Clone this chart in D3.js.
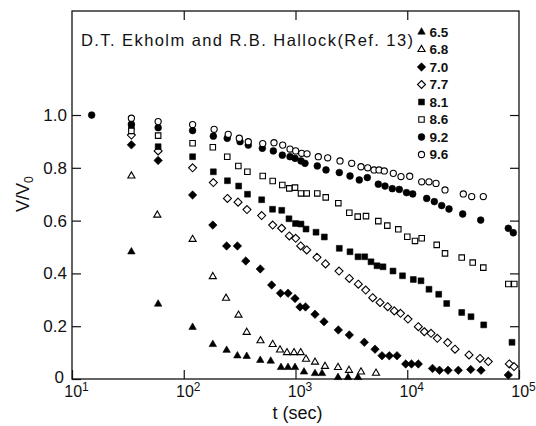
<!DOCTYPE html>
<html>
<head>
<meta charset="utf-8">
<style>
  body { margin: 0; background: #fff; }
  svg { display: block; font-family: 'Liberation Sans', Arial, sans-serif; }
  .tick line { stroke: #111; stroke-width: 1.2; }
  .tick text { font-size: 17px; fill: #111; }
  .xax .tick text { font-size: 16px; }
</style>
</head>
<body>
<svg id="chart" width="536" height="426"></svg>
<script src="https://cdnjs.cloudflare.com/ajax/libs/d3/7.8.5/d3.min.js"></script>
<script>
// values: [t (sec), V/V0]
var s65 = [[34,0.482],[59,0.284],[120,0.196],[182,0.131],[242,0.109],[302,0.088],[366,0.086],[484,0.071],[600,0.068],[742,0.044],[857,0.044],[990,0.044],[1191,0.027],[1495,0.021],[1727,0.021],[2401,0.006],[2951,0.006],[3625,0.006]];
var s68 = [[34,0.769],[58,0.621],[120,0.529],[182,0.388],[239,0.306],[309,0.242],[366,0.177],[486,0.145],[625,0.131],[727,0.110],[839,0.100],[970,0.100],[1113,0.100],[1242,0.075],[1495,0.064],[1837,0.048],[2401,0.044],[3011,0.033],[3855,0.027],[5253,0.022]];
var s70 = [[34,0.887],[59,0.828],[120,0.697],[182,0.583],[242,0.504],[302,0.504],[359,0.447],[484,0.417],[612,0.356],[734,0.325],[857,0.325],[990,0.305],[1097,0.273],[1229,0.273],[1495,0.245],[1799,0.217],[2416,0.186],[3030,0.167],[4128,0.139],[5145,0.113],[5943,0.088],[6908,0.088],[8094,0.088],[9687,0.057],[10910,0.057],[12560,0.057],[16830,0.040],[19440,0.033],[23160,0.033],[28630,0.033],[36970,0.036],[45710,0.033],[80240,0.015]];
var s77 = [[34,0.924],[59,0.864],[120,0.800],[184,0.744],[246,0.684],[306,0.670],[368,0.642],[498,0.619],[625,0.583],[752,0.571],[880,0.542],[1004,0.533],[1113,0.504],[1260,0.489],[1557,0.461],[1856,0.436],[2451,0.409],[3030,0.381],[3648,0.359],[4249,0.337],[4907,0.308],[5704,0.290],[6683,0.274],[7657,0.258],[8700,0.249],[10150,0.227],[12560,0.198],[14210,0.179],[16320,0.173],[18580,0.154],[23010,0.138],[26750,0.113],[35690,0.091],[44770,0.078],[53130,0.066],[81900,0.057],[90230,0.047]];
var s81 = [[34,0.955],[59,0.880],[120,0.842],[184,0.785],[246,0.751],[310,0.731],[372,0.700],[498,0.679],[623,0.643],[753,0.639],[874,0.607],[1000,0.589],[1120,0.587],[1242,0.568],[1526,0.556],[1811,0.538],[2466,0.495],[3074,0.482],[3625,0.463],[4162,0.463],[4738,0.444],[5362,0.429],[6067,0.425],[7455,0.409],[9068,0.391],[11330,0.377],[13270,0.372],[15650,0.340],[19120,0.321],[22540,0.286],[30720,0.252],[37200,0.236],[48320,0.205],[86570,0.139]];
var s86 = [[34,0.940],[59,0.922],[120,0.893],[182,0.878],[245,0.842],[308,0.807],[371,0.785],[509,0.769],[625,0.750],[762,0.735],[880,0.722],[990,0.725],[1120,0.703],[1260,0.703],[1567,0.703],[1864,0.688],[2416,0.666],[3030,0.630],[3602,0.615],[4275,0.617],[5508,0.598],[6630,0.581],[8316,0.567],[10010,0.539],[11730,0.523],[13470,0.533],[18350,0.508],[21770,0.476],[30720,0.460],[38520,0.441],[47920,0.422],[80240,0.360],[90790,0.360]];
var s92 = [[15,1.0],[34,0.965],[59,0.952],[120,0.941],[184,0.920],[245,0.912],[319,0.899],[378,0.886],[505,0.874],[633,0.864],[762,0.848],[893,0.842],[990,0.836],[1120,0.826],[1216,0.817],[1567,0.807],[1875,0.792],[2466,0.782],[3074,0.769],[3723,0.754],[4391,0.763],[5508,0.738],[6322,0.731],[7348,0.721],[8489,0.718],[9847,0.706],[11190,0.701],[14930,0.684],[17470,0.672],[20330,0.657],[23640,0.644],[31350,0.625],[45420,0.602],[80240,0.571],[88920,0.554]];
var s96 = [[34,0.988],[59,0.975],[120,0.964],[187,0.946],[250,0.927],[314,0.912],[378,0.899],[509,0.892],[642,0.895],[768,0.886],[893,0.871],[1004,0.864],[1136,0.855],[1268,0.853],[1600,0.842],[1941,0.838],[2502,0.826],[3183,0.817],[3855,0.804],[4427,0.800],[5041,0.792],[5587,0.792],[6231,0.788],[7502,0.779],[8790,0.767],[10520,0.768],[13470,0.747],[15650,0.747],[18090,0.741],[21770,0.716],[31740,0.701],[37730,0.691],[47920,0.691]];

var labels = ["6.5", "6.8", "7.0", "7.7", "8.1", "8.6", "9.2", "9.6"];
var series = [s65, s68, s70, s77, s81, s86, s92, s96];
var xTicks = [10, 100, 1000, 10000, 100000];
var xExp = ["1", "2", "3", "4", "5"];
var yTicks = [0, 0.2, 0.4, 0.6, 0.8, 1.0];
var yMax = 1.394;
var title = "D.T. Ekholm and R.B. Hallock(Ref. 13)";

// set the dimensions and margins of the graph
var margin = { top: 11, right: 17, bottom: 47, left: 72 },
	width = 536 - margin.left - margin.right,
	height = 426 - margin.top - margin.bottom;

var diamond = {
	draw: function (ctx, size) {
		var r = Math.sqrt(size / 2);
		ctx.moveTo(0, -r); ctx.lineTo(r, 0); ctx.lineTo(0, r); ctx.lineTo(-r, 0); ctx.closePath();
	}
};
// marker per series: shape, filled?, size
var markers = [
	[d3.symbolTriangle, true, 24], [d3.symbolTriangle, false, 22],
	[diamond, true, 36], [diamond, false, 32],
	[d3.symbolSquare, true, 34], [d3.symbolSquare, false, 30],
	[d3.symbolCircle, true, 36], [d3.symbolCircle, false, 30]
];

var x = d3.scaleLog().domain([10, 100000]).range([0, width]);
var y = d3.scaleLinear().domain([0, yMax]).range([height, 0]);

var svg = d3.select("#chart").append("g")
	.attr("transform", "translate(" + margin.left + "," + margin.top + ")");

function style(g) {
	g.select(".domain").remove();
	g.selectAll(".tick line").attr("stroke", "#111").attr("stroke-width", 1.2);
}

// bottom axis with 10^n labels
svg.append("g")
	.attr("class", "xax")
	.attr("transform", "translate(0," + height + ")")
	.call(d3.axisBottom(x).tickValues(xTicks).tickSize(-9).tickPadding(7).tickFormat(""))
	.call(style)
	.selectAll(".tick text")
	.attr("dx", 4)
	.each(function (d, i) {
		var t = d3.select(this);
		t.append("tspan").text("10");
		t.append("tspan").attr("dy", "-0.5em").attr("font-size", "12px").text(xExp[i]);
	});

svg.append("g")
	.call(d3.axisTop(x).tickValues(xTicks.slice(1, 4)).tickSize(-9).tickFormat(""))
	.call(style);

svg.append("g")
	.call(d3.axisLeft(y).tickValues(yTicks).tickSize(-9).tickPadding(5)
		.tickFormat(function (d) { return d === 0 ? "0" : d3.format(".1f")(d); }))
	.call(style)
	.selectAll(".tick text")
	.filter(function (d) { return d === 0; })
	.attr("dx", -3)
	.attr("dy", "0.2em");

svg.append("g")
	.attr("transform", "translate(" + width + ",0)")
	.call(d3.axisRight(y).tickValues(yTicks.slice(1)).tickSize(-9).tickFormat(""))
	.call(style);

// frame
svg.append("rect")
	.attr("width", width).attr("height", height)
	.attr("fill", "none").attr("stroke", "#111").attr("stroke-width", 1.3);

// points
series.forEach(function (data, i) {
	var m = markers[i];
	svg.append("g").selectAll("path")
		.data(data)
		.enter().append("path")
		.attr("transform", function (d) { return "translate(" + x(d[0]) + "," + y(d[1]) + ")"; })
		.attr("d", d3.symbol().type(m[0]).size(m[2]))
		.attr("fill", m[1] ? "#000" : "#fff")
		.attr("stroke", "#000")
		.attr("stroke-width", m[1] ? 0.6 : 1.1);
});

// legend
var legend = svg.selectAll(".legend")
	.data(labels)
	.enter().append("g")
	.attr("transform", function (d, i) { return "translate(" + (349.5) + "," + (21 + i * 17.5) + ")"; });

legend.append("path")
	.attr("d", function (d, i) { return d3.symbol().type(markers[i][0]).size(markers[i][2])(); })
	.attr("fill", function (d, i) { return markers[i][1] ? "#000" : "#fff"; })
	.attr("stroke", "#000")
	.attr("stroke-width", function (d, i) { return markers[i][1] ? 0.6 : 1.1; });

legend.append("text")
	.attr("x", 8)
	.attr("dy", "0.36em")
	.attr("font-size", "13.5px")
	.attr("font-weight", "bold")
	.attr("fill", "#111")
	.text(function (d) { return d; });

// title
svg.append("text")
	.attr("x", 9).attr("y", 35)
	.attr("font-size", "16.5px")
	.attr("fill", "#111")
	.attr("textLength", 332)
	.attr("lengthAdjust", "spacing")
	.text(title);

// axis labels
svg.append("text")
	.attr("x", width / 2 + 2).attr("y", height + 40)
	.attr("text-anchor", "middle")
	.attr("font-size", "18px")
	.attr("fill", "#111")
	.text("t (sec)");

var yl = svg.append("text")
	.attr("transform", "translate(-43," + (y(0.7)) + ") rotate(-90)")
	.attr("text-anchor", "middle")
	.attr("font-size", "18px")
	.attr("fill", "#111");
yl.append("tspan").text("V/V");
yl.append("tspan").attr("dy", "0.3em").attr("font-size", "12px").text("0");
</script>
</body>
</html>
